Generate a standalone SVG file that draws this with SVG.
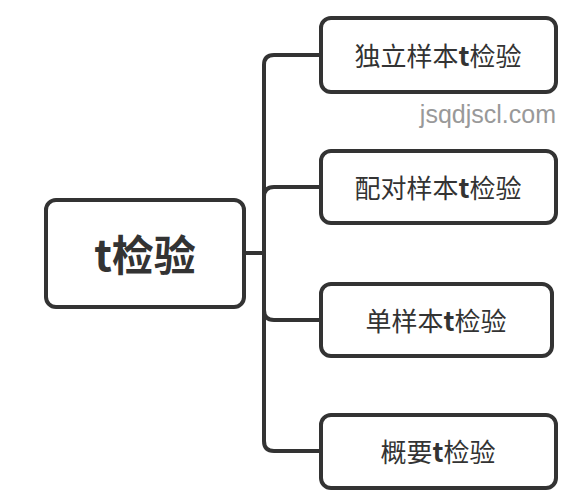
<svg xmlns="http://www.w3.org/2000/svg" width="587" height="498" viewBox="0 0 587 498">
<style>
.box{fill:#fff;stroke:#333;stroke-width:4}
.lbl{font-family:"Noto Sans CJK SC","Noto Sans",sans-serif;font-size:26px;fill:#333;text-anchor:middle;dominant-baseline:central}
.b{font-weight:bold}
.con{fill:none;stroke:#333;stroke-width:4}
</style>
<rect width="587" height="498" fill="#fff"/>
<g id="connectors">
<path class="con" d="M244,253 H264"/>
<path class="con" d="M264,253 V65 Q264,55 274,55 H321"/>
<path class="con" d="M264,253 V197 Q264,187 274,187 H321"/>
<path class="con" d="M264,253 V310 Q264,320 274,320 H321"/>
<path class="con" d="M264,253 V441 Q264,451 274,451 H321"/>
</g>
<g id="root">
<rect class="box" x="46" y="200" width="198" height="107" rx="10"/>
<text class="lbl" x="145" y="252" style="font-size:42px;font-weight:bold">t检验</text>
</g>
<g id="n1">
<rect class="box" x="321" y="18" width="235" height="74" rx="10"/>
<text class="lbl" x="438" y="54"><tspan>独立样本</tspan><tspan class="b">t</tspan><tspan>检验</tspan></text>
</g>
<g id="n2">
<rect class="box" x="321" y="151" width="235" height="72" rx="10"/>
<text class="lbl" x="438" y="186"><tspan>配对样本</tspan><tspan class="b">t</tspan><tspan>检验</tspan></text>
</g>
<g id="n3">
<rect class="box" x="321" y="284" width="231" height="72" rx="10"/>
<text class="lbl" x="436" y="319"><tspan>单样本</tspan><tspan class="b">t</tspan><tspan>检验</tspan></text>
</g>
<g id="n4">
<rect class="box" x="321" y="415" width="235" height="73" rx="10"/>
<text class="lbl" x="438" y="450"><tspan>概要</tspan><tspan class="b">t</tspan><tspan>检验</tspan></text>
</g>
<text x="556" y="123" style="font-family:'Liberation Sans',Arial,sans-serif;font-size:25px;fill:#999;text-anchor:end">jsqdjscl.com</text>
</svg>
